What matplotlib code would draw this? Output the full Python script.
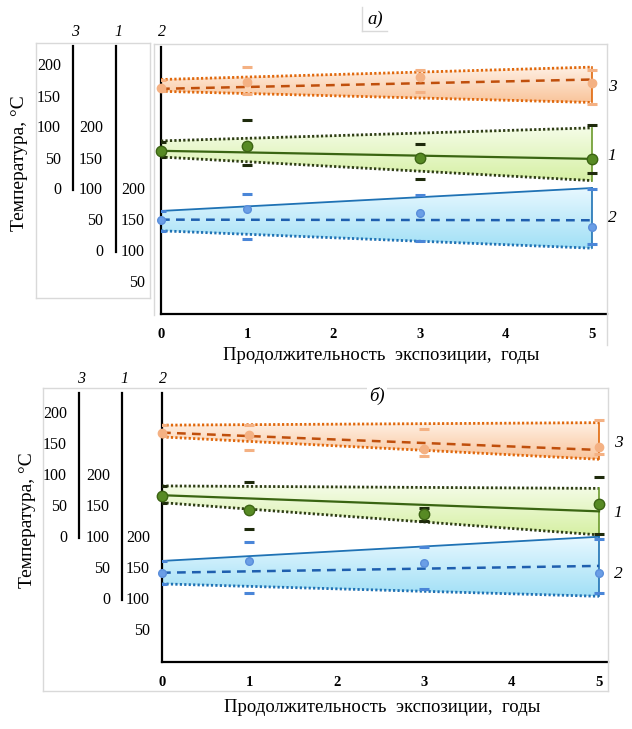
import numpy as np
import matplotlib
matplotlib.use("Agg")
import matplotlib.pyplot as plt
from matplotlib.lines import Line2D
from matplotlib.patches import Polygon
from matplotlib import transforms

plt.rcParams['font.family'] = ['Liberation Serif', 'DejaVu Serif']

# ---------------- data ----------------
years = [0, 1, 3, 5]
trend_x = [0, 5]
scale_ticks = [200, 150, 100, 50, 0]
x_ticks = [0, 1, 2, 3, 4, 5]

# panel a
a3_mean = [165, 175, 183, 173]
a3_hi = [179, 200, 194, 194]
a3_lo = [160, 156, 159, 139]
a3_upper = [179, 199]
a3_lower = [160, 142]
a3_trend = [164, 179]

a1_mean = [164, 172, 152, 151]
a1_hi = [179, 214, 175, 206]
a1_lo = [154, 141, 119, 129]
a1_upper = [180, 201]
a1_lower = [154, 116]
a1_trend = [164, 151]

a2_mean = [153, 170, 163, 141]
a2_hi = [167, 195, 192, 202]
a2_lo = [135, 121, 118, 113]
a2_upper = [167, 204]
a2_lower = [135, 107]
a2_trend = [153, 152]

# panel b
b3_mean = [170, 166, 143, 147]
b3_hi = [182, 183, 176, 190]
b3_lo = [164, 142, 133, 135]
b3_upper = [182, 186]
b3_lower = [163, 127]
b3_trend = [170, 142]

b1_mean = [168, 145, 139, 155]
b1_hi = [184, 191, 148, 199]
b1_lo = [157, 114, 128, 107]
b1_upper = [184, 180]
b1_lower = [157, 105]
b1_trend = [169, 143]

b2_mean = [144, 163, 160, 144]
b2_hi = [163, 193, 186, 199]
b2_lo = [126, 112, 117, 112]
b2_upper = [163, 202]
b2_lower = [126, 106]
b2_trend = [144, 155]

offsets = {'3': 200, '1': 100, '2': 0}

W, H = 632, 729
fig = plt.figure(figsize=(W / 100, H / 100), dpi=100)

GRAY = '#D9D9D9'


def fx(x):
    return x / W


def fy(y):
    return 1 - y / H


def gline(x0, y0, x1, y1, color=GRAY, lw=1.0):
    fig.add_artist(Line2D([fx(x0), fx(x1)], [fy(y0), fy(y1)],
                          transform=fig.transFigure, color=color, lw=lw))


styles = {
    '3': dict(fill_top='#FFF0E4', fill_bot='#F9C59C', edge='#E0680C',
              upper_ls='dot', lower_ls='dot', trend_color='#C04F0C',
              trend_ls='dash', pt='#F4B183', pt_edge='#F4B183', ms=6,
              cap='#F4B183'),
    '1': dict(fill_top='#F4FCE6', fill_bot='#D6F0A4', edge='#2E3D14',
              upper_ls='dot', lower_ls='dot', trend_color='#3A6512',
              trend_ls='solid', pt='#578A24', pt_edge='#3C6414', ms=7.5,
              cap='#1E2A0C', side='#6B9A2C'),
    '2': dict(fill_top='#E8F8FF', fill_bot='#A2E0F6', edge='#1F72B4',
              upper_ls='solid', lower_ls='dot', trend_color='#1F5FAF',
              trend_ls='dash', pt='#6A9EE6', pt_edge='#5A8EDA', ms=5.5,
              cap='#4A86D8'),
}


def draw_series(ax, key, mean, hi, lo, upper, lower, trend):
    st = styles[key]
    off = offsets[key]
    m = np.array(mean) + off
    h = np.array(hi) + off
    l = np.array(lo) + off
    up = np.array(upper) + off
    lw_ = np.array(lower) + off
    tr = np.array(trend) + off
    verts = [(trend_x[0], lw_[0]), (trend_x[0], up[0]),
             (trend_x[1], up[1]), (trend_x[1], lw_[1])]
    poly = Polygon(verts, closed=True, facecolor='none', edgecolor='none')
    ax.add_patch(poly)
    c1 = np.array(matplotlib.colors.to_rgb(st['fill_top']))
    c2 = np.array(matplotlib.colors.to_rgb(st['fill_bot']))
    t = np.linspace(0, 1, 64)[:, None]
    grad = (c1[None, :] * (1 - t) + c2[None, :] * t)[:, None, :]
    ymin, ymax = min(lw_), max(up)
    im = ax.imshow(grad, extent=[trend_x[0], trend_x[1], ymin, ymax],
                   origin='upper', aspect='auto', zorder=1, interpolation='bilinear')
    im.set_clip_path(poly)

    def ls(name):
        return (0, (0.8, 0.8)) if name == 'dot' else '-'
    ax.plot(trend_x, up, color=st['edge'], lw=2.0 if st['upper_ls'] == 'dot' else 1.3,
            ls=ls(st['upper_ls']), zorder=3)
    ax.plot(trend_x, lw_, color=st['edge'], lw=2.0, ls=ls(st['lower_ls']), zorder=3)
    side_c = st.get('side', st['edge'])
    ax.plot([trend_x[1], trend_x[1]], [lw_[1], up[1]], color=side_c, lw=1.2, zorder=3)
    if st['trend_ls'] == 'dash':
        ax.plot(trend_x, tr, color=st['trend_color'], lw=1.8, ls=(0, (3.5, 2.5)), zorder=4)
    else:
        ax.plot(trend_x, tr, color=st['trend_color'], lw=1.6, zorder=4)
    ax.plot(years, h, ls='none', marker='_', ms=7, mew=2.2, color=st['cap'], zorder=5)
    ax.plot(years, l, ls='none', marker='_', ms=7, mew=2.2, color=st['cap'], zorder=5)
    ax.plot(years, m, ls='none', marker='o', ms=st['ms'], mfc=st['pt'],
            mec=st['pt_edge'], mew=1, zorder=6, clip_on=False)


def panel(left, right, top, bottom, xmax, cols, col_lbl_y,
          series, side_labels, side_x, letter, letter_xy, xlabel_y, ylabel_xy,
          letter_bbox):
    ax = fig.add_axes([fx(left), fy(bottom), fx(right - left), (bottom - top) / H])
    ymax = (bottom - top) / 0.62
    ax.set_xlim(0, xmax)
    ax.set_ylim(0, ymax)
    ax.patch.set_alpha(0)
    for s in ['top', 'right']:
        ax.spines[s].set_visible(False)
    for s in ['left', 'bottom']:
        ax.spines[s].set_color('black')
        ax.spines[s].set_linewidth(1.6)
    ax.set_yticks([])
    ax.set_xticks(x_ticks)
    ax.set_xticklabels([str(v) for v in x_ticks], fontweight='bold', fontsize=10.5)
    ax.tick_params(axis='x', length=0, pad=10)
    for args in series:
        draw_series(ax, *args)
    blend = transforms.blended_transform_factory(fig.transFigure, ax.transData)
    for key, lbl_right, line_x, line_top in cols:
        off = offsets[key]
        ticks = scale_ticks if key != '2' else scale_ticks[:-1]
        for tv in ticks:
            ax.text(fx(lbl_right), tv + off, str(tv), transform=blend, ha='right',
                    va='center', fontsize=11.5, clip_on=False)
        if line_x is not None:
            ytop = (bottom - line_top) / 0.62
            ax.plot([fx(line_x), fx(line_x)], [off, ytop], transform=blend,
                    color='black', lw=1.6, clip_on=False)
        lx = line_x if line_x is not None else left - 1
        fig.text(fx(lx + 2), fy(col_lbl_y), key, ha='center', va='center',
                 fontsize=11.5, fontstyle='italic')
    for key, yv in side_labels:
        fig.text(fx(side_x), fy(yv), key, ha='center', va='center',
                 fontsize=12.5, fontstyle='italic')
    fig.text(fx(letter_xy[0]), fy(letter_xy[1]), letter, ha='center', va='center',
             fontsize=13.5, fontstyle='italic',
             bbox=dict(facecolor='white', edgecolor='none', pad=1.5) if letter_bbox else None)
    fig.text(fx((left + right) / 2 - 3), fy(xlabel_y),
             'Продолжительность  экспозиции,  годы', ha='center', va='center',
             fontsize=13.5)
    fig.text(fx(ylabel_xy[0]), fy(ylabel_xy[1]), 'Температура, °С', ha='center',
             va='center', rotation=90, fontsize=14)
    return ax


# ---- panel a frames ----
gline(36, 43, 150, 43); gline(36, 298, 150, 298)
gline(36, 43, 36, 298); gline(150, 43, 150, 298)
gline(154, 44, 607, 44); gline(154, 44, 154, 315); gline(607, 44, 607, 345)
gline(362, 7, 362, 31); gline(362, 31, 387, 31)

panel(161, 607, 47, 314.5, (607 - 161) / 86.2,
      cols=[('3', 61, 73, 46), ('1', 103, 116, 46), ('2', 145, None, 46)],
      col_lbl_y=32,
      series=[('3', a3_mean, a3_hi, a3_lo, a3_upper, a3_lower, a3_trend),
              ('1', a1_mean, a1_hi, a1_lo, a1_upper, a1_lower, a1_trend),
              ('2', a2_mean, a2_hi, a2_lo, a2_upper, a2_lower, a2_trend)],
      side_labels=[('3', 87), ('1', 156), ('2', 218)], side_x=612,
      letter='а)', letter_xy=(375, 19), xlabel_y=356, ylabel_xy=(20, 163),
      letter_bbox=False)

# ---- panel b frames ----
gline(43, 388, 608, 388); gline(43, 691, 608, 691)
gline(43, 388, 43, 691); gline(608, 388, 608, 691)

panel(162, 608, 393, 662, (608 - 162) / 87.4,
      cols=[('3', 67, 79, 393), ('1', 110, 122, 393), ('2', 150, None, 393)],
      col_lbl_y=379,
      series=[('3', b3_mean, b3_hi, b3_lo, b3_upper, b3_lower, b3_trend),
              ('1', b1_mean, b1_hi, b1_lo, b1_upper, b1_lower, b1_trend),
              ('2', b2_mean, b2_hi, b2_lo, b2_upper, b2_lower, b2_trend)],
      side_labels=[('3', 443), ('1', 513), ('2', 574)], side_x=618,
      letter='б)', letter_xy=(377, 396), xlabel_y=708, ylabel_xy=(27, 520),
      letter_bbox=True)

fig.savefig('out.png', dpi=100)
